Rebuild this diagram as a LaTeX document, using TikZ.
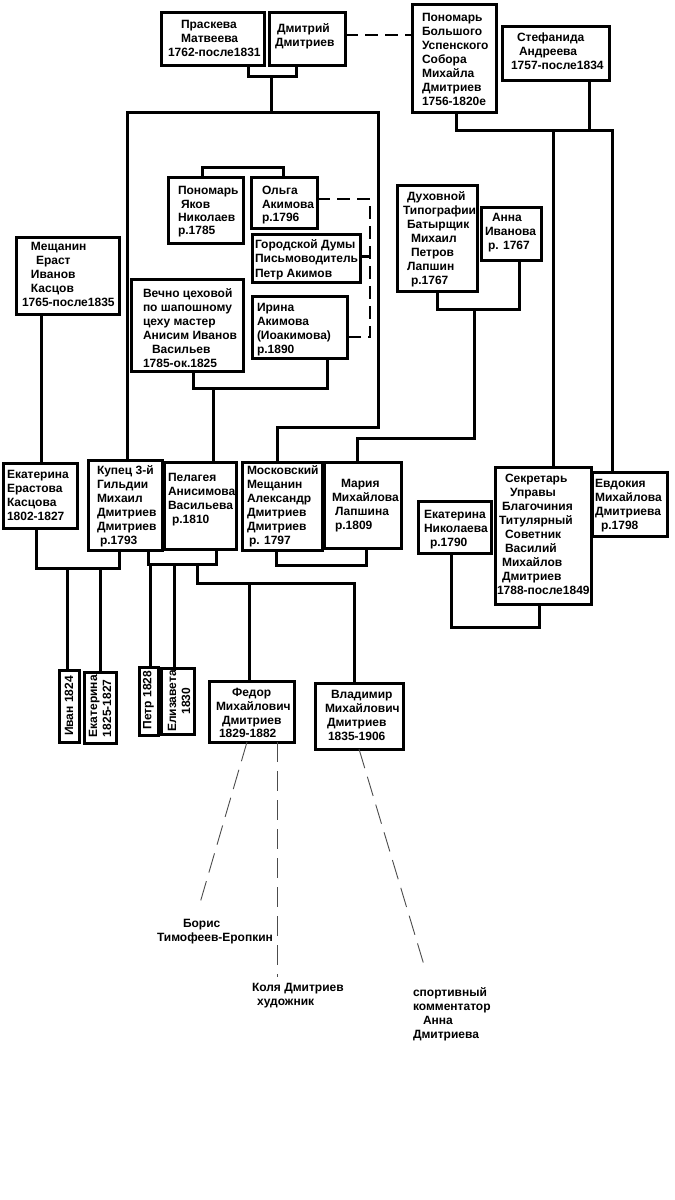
\documentclass[tikz,border=0pt]{standalone}
\usepackage{fontspec}
\setmainfont{Liberation Sans}
\newcommand\ind[1]{\hspace*{#1pt}}
\tikzset{
  box/.style={draw, line width=3pt, inner sep=0pt, outer sep=0pt, line join=miter},
  txt/.style={align=left, inner sep=0pt, outer sep=0pt, font=\bfseries\fontsize{12}{14}\selectfont},
  con/.style={line width=3pt, line join=miter},
  dashcon/.style={line width=2.6pt, dash pattern=on 13pt off 7pt},
  thindash/.style={line width=0.9pt, black!70, dash pattern=on 20pt off 9pt}
}
\newcommand\bx[9][]{%
  \node[box, minimum width=#5pt-#3pt, minimum height=#6pt-#4pt, anchor=north west] (#2) at (#3,#4) {};
  \node[txt, anchor=north west, #1] (#2t) at (#7,#8+1) {#9};}
\begin{document}
\begin{tikzpicture}[x=1pt,y=-1pt]
\useasboundingbox (0,0) rectangle (675,1200);
% ---- boxes
\bx{pr}{161}{12}{264}{65}{168}{19.5}{\ind{13}Праскева\\\ind{13}Матвеева\\1762-после1831}
\bx{dm}{269}{12}{345}{65}{275}{22.5}{\ind{2}Дмитрий\\Дмитриев}
\bx{pb}{412}{4}{496}{112}{422}{12.5}{Пономарь\\Большого\\Успенского\\Собора\\Михайла\\Дмитриев\\1756-1820е}
\bx{st}{502}{26}{609}{80}{511}{31.5}{\ind{6}Стефанида\\\ind{8}Андреева\\1757-после1834}
\bx[font=\bfseries\fontsize{12}{13.3}\selectfont]{yak}{168}{177}{243}{243}{178}{185.5}{Пономарь\\\ind{3}Яков\\Николаев\\р.1785}
\bx[font=\bfseries\fontsize{12}{13.5}\selectfont]{olga}{251}{177}{317}{228}{262}{185.5}{Ольга\\Акимова\\р.1796}
\bx[font=\bfseries\fontsize{12}{14.5}\selectfont]{gor}{252}{234}{360}{282}{255}{238.5}{Городской Думы\\Письмоводитель\\Петр Акимов}
\bx{ir}{252}{296}{347}{358}{257}{302.5}{Ирина\\Акимова\\(Иоакимова)\\р.1890}
\bx{mesh}{16}{237}{119}{314}{22}{241.5}{\ind{9}Мещанин\\\ind{14}Ераст\\\ind{9}Иванов\\\ind{9}Касцов\\1765-после1835}
\bx{vech}{131}{279}{243}{371}{143}{287.5}{Вечно цеховой\\по шапошному\\цеху мастер\\Анисим Иванов\\\ind{9}Васильев\\1785-ок.1825}
\bx{dux}{397}{185}{477}{291}{403}{190.5}{\ind{4}Духовной\\Типографии\\\ind{4}Батырщик\\\ind{8}Михаил\\\ind{8}Петров\\\ind{4}Лапшин\\\ind{8}р.1767}
\bx{anna}{481}{207}{541}{260}{485}{212.5}{\ind{7}Анна\\Иванова\\\ind{3}р. 1767}
\bx{ekE}{3}{463}{77}{528}{7}{469.5}{Екатерина\\Ерастова\\Касцова\\1802-1827}
\bx{kup}{88}{460}{162}{550}{97}{464.5}{Купец 3-й\\Гильдии\\Михаил\\Дмитриев\\Дмитриев\\\ind{3}р.1793}
\bx{pel}{164}{462}{236}{549}{168}{472.5}{Пелагея\\Анисимова\\Васильева\\\ind{4}р.1810}
\bx{mos}{242}{462}{322}{550}{247}{464.5}{Московский\\Мещанин\\Александр\\Дмитриев\\Дмитриев\\\ind{2}р. 1797}
\bx{mar}{324}{462}{401}{548}{332}{478.5}{\ind{9}Мария\\Михайлова\\\ind{3}Лапшина\\\ind{3}р.1809}
\bx{ekN}{418}{501}{491}{553}{424}{509.5}{Екатерина\\Николаева\\\ind{6}р.1790}
\bx{sek}{495}{467}{591}{604}{497}{473.5}{\ind{8}Секретарь\\\ind{13}Управы\\\ind{5}Благочиния\\\ind{2}Титулярный\\\ind{8}Советник\\\ind{8}Василий\\\ind{5}Михайлов\\\ind{5}Дмитриев\\1788-после1849}
\bx{evd}{592}{472}{667}{536}{595}{478.5}{Евдокия\\Михайлова\\Дмитриева\\\ind{6}р.1798}
\bx[font=\bfseries\fontsize{12}{13.7}\selectfont]{fed}{209}{681}{294}{742}{216}{687.5}{\ind{16}Федор\\Михайлович\\\ind{6}Дмитриев\\\ind{3}1829-1882}
\bx{vla}{315}{683}{403}{749}{325}{689.5}{\ind{6}Владимир\\Михайлович\\\ind{2}Дмитриев\\\ind{3}1835-1906}
% rotated children
\node[box, minimum width=20pt, minimum height=72pt, anchor=north west] (ivan) at (59,670) {};
\node[txt, rotate=90] (ivant) at (69,706) {Иван 1824};
\node[box, minimum width=32pt, minimum height=71pt, anchor=north west] (ek2) at (84,672) {};
\node[txt, rotate=90, anchor=west] (ek2t) at (100,737) {Екатерина\\1825-1827};
\node[box, minimum width=19pt, minimum height=68pt, anchor=north west] (petr) at (139,667) {};
\node[txt, rotate=90] (petrt) at (148.5,700) {Петр 1828};
\node[box, minimum width=33pt, minimum height=66pt, anchor=north west] (eliz) at (161,668) {};
\node[txt, rotate=90, align=center] (elizt) at (179,701) {Елизавета\\1830};
% free labels
\node[txt, anchor=north west] (bor) at (157,919.5) {\ind{26}Борис\\Тимофеев-Еропкин};
\node[txt, anchor=north west] (kol) at (252,983.5) {Коля Дмитриев\\\ind{5}художник};
\node[txt, anchor=north west] (spo) at (413,988) {спортивный\\комментатор\\\ind{10}Анна\\Дмитриева};
% ---- junction coordinates
\coordinate (j1) at (271,76);
\coordinate (bl) at (127,112);
\coordinate (br) at (378,112);
\coordinate (bm) at (271,112);
\coordinate (j14) at (378,427);
\coordinate (j2a) at (553,130);
\coordinate (j2b) at (612,130);
\coordinate (d1) at (370,199);
\coordinate (d2) at (370,337);
\coordinate (j3) at (213,388);
\coordinate (j4) at (474,309);
\coordinate (j5) at (474,438);
\coordinate (j6) at (67,568);
\coordinate (j7) at (100,568);
\coordinate (j8) at (174,564);
\coordinate (j9) at (150,564);
\coordinate (j10) at (197,564);
\coordinate (j11) at (249,583);
\coordinate (j12) at (320,565);
\coordinate (j13) at (495,627);
\coordinate (e1) at (200,903);
\coordinate (e2) at (277,977);
\coordinate (e3) at (424,965);
% ---- connectors
\draw[con] (pr.south -| 248,0) |- (j1) -| (dm.south -| 296,0);
\draw[con] (j1) -- (bm);
\draw[con] (kup.north -| bl) -- (bl) -- (br) -- (j14) -| (mos.north -| 277,0);
\draw[dashcon] (dm.east |- 0,35) -- (pb.west |- 0,35);
\draw[con] (pb.south -| 456,0) |- (j2b) -- (evd.north -| j2b);
\draw[con] (st.south -| 589,0) -- (589,130);
\draw[con] (j2a) -- (sek.north -| j2a);
\draw[con] (yak.north -| 202,0) -- ++(0,-10) -| (olga.north -| 283,0);
\draw[dashcon] (olga.east |- d1) -- (d1) -- (d2) -- (ir.east |- d2);
\draw[con] (gor.east |- 0,256) -- (d1 |- 0,256);
\draw[con] (vech.south -| 193,0) |- (j3) -| (ir.south -| 327,0);
\draw[con] (j3) -- (pel.north -| j3);
\draw[con] (mesh.south -| 41,0) -- (ekE.north -| 41,0);
\draw[con] (dux.south -| 437,0) |- (j4) -| (anna.south -| 519,0);
\draw[con] (j4) -- (j5) -| (mar.north -| 357,0);
\draw[con] (ekE.south -| 36,0) |- (j6) -| (kup.south -| 119,0);
\draw[con] (j6) -- (ivan.north -| j6);
\draw[con] (j7) -- (ek2.north -| j7);
\draw[con] (kup.south -| 148,0) |- (j8) -| (pel.south -| 216,0);
\draw[con] (j9) -- (petr.north -| j9);
\draw[con] (j8) -- (eliz.north -| j8);
\draw[con] (j10) |- (j11) -- (fed.north -| j11);
\draw[con] (j11) -| (vla.north -| 354,0);
\draw[con] (mos.south -| 276,0) |- (j12) -| (mar.south -| 366,0);
\draw[con] (ekN.south -| 451,0) |- (j13) -| (sek.south -| 539,0);
\draw[thindash] (fed.south -| 247,0) -- (e1);
\draw[thindash] (fed.south -| 277,0) -- (e2);
\draw[thindash] (vla.south -| 359,0) -- (e3);
\end{tikzpicture}
\end{document}
